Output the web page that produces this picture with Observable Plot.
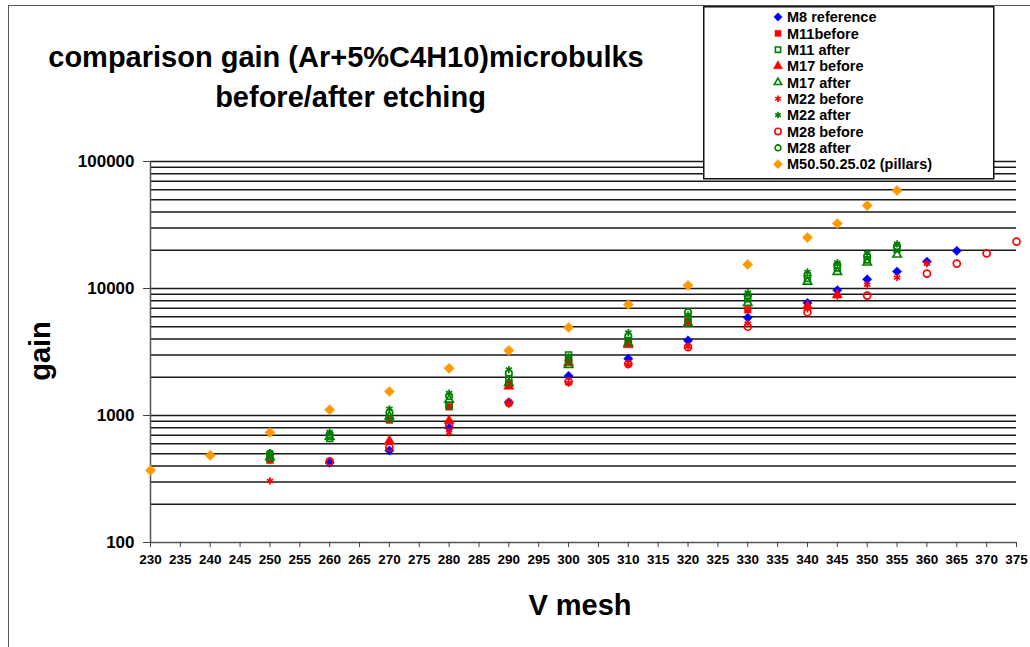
<!DOCTYPE html>
<html>
<head>
<meta charset="utf-8">
<script src="https://cdn.jsdelivr.net/npm/d3@7"></script>
<script src="https://cdn.jsdelivr.net/npm/@observablehq/plot@0.6"></script>
<style>
  body { margin: 0; background: #fff; }
  #wrap { position: relative; width: 1030px; height: 647px; overflow: hidden; font-family: "Liberation Sans", Arial, sans-serif; }
  #frame { position: absolute; left: 8px; top: 5px; width: 1100px; height: 700px; border: 1.5px solid #555; }
  #chart { position: absolute; left: 0; top: 0; }
  .t { position: absolute; font-weight: bold; color: #000; white-space: nowrap; }
  #legend { position: absolute; left: 703px; top: 6px; }
</style>
</head>
<body>
<div id="wrap">
  <div id="frame"></div>
  <div id="chart"></div>
  <div class="t" style="left:0;width:692px;top:40px;text-align:center;font-size:29px;line-height:34px;">comparison gain (Ar+5%C4H10)microbulks</div>
  <div class="t" style="left:0;width:701px;top:80px;text-align:center;font-size:29px;line-height:34px;">before/after etching</div>
  <div class="t" style="left:40px;top:351px;font-size:29px;line-height:30px;transform:translate(-50%,-50%) rotate(-90deg);">gain</div>
  <div class="t" style="left:580px;top:605px;font-size:29px;line-height:30px;transform:translate(-50%,-50%);">V mesh</div>
  <div id="legend"></div>
</div>
<script>
// ---- data ----
const xTicks = d3.range(230, 376, 5);
const yTicks = [100, 1000, 10000, 100000];
const gridValues = [100,200,300,400,500,600,700,800,900,1000,2000,3000,4000,5000,6000,7000,8000,9000,10000,20000,30000,40000,50000,60000,70000,80000,90000,100000];

const seriesNames = ["M8 reference","M11before","M11 after","M17 before","M17 after","M22 before","M22 after","M28 before","M28 after","M50.50.25.02 (pillars)"];

const V_M8  = [260,270,280,290,300,310,320,330,340,345,350,355,360,365];
const G_M8  = [425,530,800,1270,2050,2800,3900,5900,7700,9700,11800,13600,16300,19800];

const V_M11b = [250,270,280,290,300,310,320,330];
const G_M11b = [445,920,1170,1780,2750,3750,5500,6800];

const V_M11a = [250,260,270,280,290,300,310,320,330,340,345,350,355];
const G_M11a = [460,660,940,1200,1950,3000,3900,5800,8300,12000,14500,16800,20500];

const V_M17b = [270,280,290,300,310,320,340,345];
const G_M17b = [630,910,1700,2600,3600,5300,7300,8900];

const V_M17a = [250,260,270,280,290,300,310,320,330,340,345,350,355];
const G_M17a = [470,680,980,1330,1800,2500,3700,5300,7700,11300,13500,16000,18500];

const V_M22b = [250,280,290,300,310,320,330,340,345,350,355,360];
const G_M22b = [305,730,1230,1800,2500,3500,5300,6900,8700,10700,12200,15700];

const V_M22a = [250,260,270,280,290,300,310,320,330,340,345,350,355];
const G_M22a = [510,740,1130,1500,2300,2900,4500,6200,9300,13500,16000,19000,22500];

const V_M28b = [260,270,280,290,300,310,320,330,340,350,360,365,370,375];
const G_M28b = [435,560,830,1260,1850,2550,3450,5000,6500,8800,13100,15700,18900,23400];

const V_M28a = [250,260,270,280,290,300,310,320,330,340,345,350,355];
const G_M28a = [500,710,1050,1420,2150,2700,4200,6500,8800,12800,15300,18000,21500];

const V_P = [230,240,250,260,270,280,290,300,310,320,330,340,345,350,355];
const G_P = [370,485,735,1110,1545,2350,3250,4930,7480,10560,15450,25200,32500,45000,59100];

// ---- styling per series ----
const series = [
  {name: seriesNames[0], v: V_M8,   g: G_M8,   symbol: "diamond2", color: "#0000FF", filled: true,  r: 4.2},
  {name: seriesNames[1], v: V_M11b, g: G_M11b, symbol: "square",   color: "#FF0000", filled: true,  r: 3.8},
  {name: seriesNames[2], v: V_M11a, g: G_M11a, symbol: "square",   color: "#008000", filled: false, r: 3.3},
  {name: seriesNames[3], v: V_M17b, g: G_M17b, symbol: "triangle", color: "#FF0000", filled: true,  r: 3.8},
  {name: seriesNames[4], v: V_M17a, g: G_M17a, symbol: "triangle", color: "#008000", filled: false, r: 3.1},
  {name: seriesNames[5], v: V_M22b, g: G_M22b, symbol: "asterisk", color: "#FF0000", filled: false, r: 3.4},
  {name: seriesNames[6], v: V_M22a, g: G_M22a, symbol: "asterisk", color: "#008000", filled: false, r: 3.4},
  {name: seriesNames[7], v: V_M28b, g: G_M28b, symbol: "circle",   color: "#FF0000", filled: false, r: 3.5},
  {name: seriesNames[8], v: V_M28a, g: G_M28a, symbol: "circle",   color: "#008000", filled: false, r: 3.3},
  {name: seriesNames[9], v: V_P,    g: G_P,    symbol: "diamond2", color: "#FF9900", filled: true,  r: 4.6}
];

const dotMarks = series.map(s => {
  const data = s.v.map((v, i) => ({v, g: s.g[i]}));
  return Plot.dot(data, {
    x: "v", y: "g", symbol: s.symbol, r: s.r,
    fill: s.filled ? s.color : "none",
    stroke: s.color,
    strokeWidth: s.filled ? 0.5 : 1.7
  });
});

const chart = Plot.plot({
  width: 1030,
  height: 647,
  marginLeft: 150,
  marginRight: 14,
  marginTop: 161,
  marginBottom: 105,
  style: {background: "transparent", fontFamily: "Liberation Sans, Arial, sans-serif", overflow: "visible"},
  x: {domain: [230, 375]},
  y: {type: "log", domain: [100, 100000]},
  marks: [
    Plot.ruleY(gridValues.filter(d => d > 100), {stroke: "#1a1a1a", strokeWidth: 1.5}),
    Plot.ruleX([230], {stroke: "#555", strokeWidth: 1.5}),
    Plot.ruleY([100], {stroke: "#555", strokeWidth: 1.5}),
    Plot.axisX({ticks: xTicks, tickSize: 5, tickPadding: 7, tickFormat: d => String(d), fontSize: 13.5, fontWeight: "bold", label: null, stroke: "#444", fill: "#000"}),
    Plot.axisY({ticks: yTicks, tickSize: 7, tickPadding: 9, tickFormat: d => String(d), fontSize: 17, fontWeight: "bold", label: null, stroke: "#444", fill: "#000"}),
    ...dotMarks
  ]
});
document.getElementById("chart").appendChild(chart);

// ---- legend ----
const lw = 290, lh = 172;
const leg = d3.select("#legend").append("svg").attr("width", lw + 2).attr("height", lh + 2)
  .style("font-family", "Liberation Sans, Arial, sans-serif");
leg.append("rect").attr("x", 0.75).attr("y", 0.75).attr("width", lw).attr("height", lh)
  .attr("fill", "#fff").attr("stroke", "#111").attr("stroke-width", 1.5);
const symMap = {diamond2: d3.symbolDiamond2, square: d3.symbolSquare, triangle: d3.symbolTriangle, asterisk: d3.symbolAsterisk, circle: d3.symbolCircle};
series.forEach((s, i) => {
  const cy = 11 + i * 16.35;
  const rr = s.r * 0.9;
  leg.append("path")
    .attr("d", d3.symbol(symMap[s.symbol], Math.PI * rr * rr)())
    .attr("transform", `translate(75,${cy})`)
    .attr("fill", s.filled ? s.color : "none")
    .attr("stroke", s.color)
    .attr("stroke-width", s.filled ? 0.5 : 1.6);
  leg.append("text").attr("x", 84).attr("y", cy).attr("dy", "0.36em")
    .attr("font-size", 14.5).attr("font-weight", "bold").attr("fill", "#000")
    .text(s.name);
});
</script>
</body>
</html>
